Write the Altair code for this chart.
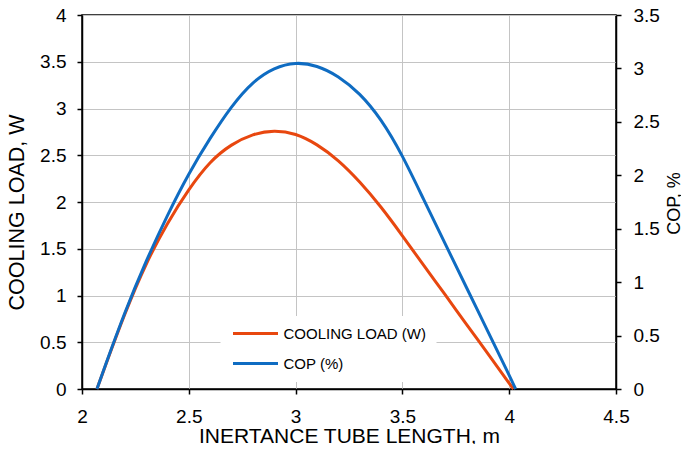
import altair as alt
import pandas as pd

# ---- data ----
series_names = ["COOLING LOAD (W)", "COP (%)"]
series_colors = ["#E8470F", "#0F6CC2"]

load_x = [2.07, 2.1, 2.2, 2.3, 2.4, 2.5, 2.6, 2.7, 2.8, 2.9, 3.0, 3.1, 3.2, 3.3, 3.4, 3.5, 3.6, 3.7, 3.8, 3.9, 4.0, 4.02]
load_y = [0.0, 0.19, 0.81, 1.35, 1.78, 2.14, 2.44, 2.62, 2.73, 2.77, 2.735, 2.62, 2.45, 2.22, 1.95, 1.64, 1.32, 1.01, 0.69, 0.38, 0.06, 0.0]

cop_x = [2.07, 2.1, 2.2, 2.3, 2.4, 2.5, 2.6, 2.7, 2.8, 2.9, 3.0, 3.1, 3.2, 3.3, 3.4, 3.5, 3.6, 3.7, 3.8, 3.9, 4.0, 4.03]
cop_y = [0.0, 0.17, 0.72, 1.20, 1.63, 2.02, 2.35, 2.65, 2.88, 3.01, 3.06, 3.03, 2.93, 2.77, 2.53, 2.19, 1.77, 1.36, 0.95, 0.54, 0.13, 0.0]

x_ticks = [2, 2.5, 3, 3.5, 4, 4.5]
left_ticks = [0, 0.5, 1, 1.5, 2, 2.5, 3, 3.5, 4]
right_ticks = [0, 0.5, 1, 1.5, 2, 2.5, 3, 3.5]

df = pd.concat([
    pd.DataFrame({"x": load_x, "value": load_y, "series": series_names[0]}),
    pd.DataFrame({"x": cop_x, "value": cop_y, "series": series_names[1]}),
], ignore_index=True)

FONT = "Liberation Sans"

color = alt.Color(
    "series:N",
    scale=alt.Scale(domain=series_names, range=series_colors),
    legend=alt.Legend(
        title=None, orient="none", legendX=138.5, legendY=301,
        fillColor="white", padding=10, symbolType="M-1,0H8",
        symbolSize=100, symbolStrokeWidth=3, labelFontSize=15,
        labelFont=FONT, labelColor="black", labelOffset=38,
        rowPadding=14, labelLimit=300,
    ),
)

x_enc = alt.X(
    "x:Q",
    scale=alt.Scale(domain=[2, 4.5], nice=False, zero=False),
    axis=alt.Axis(
        values=x_ticks, format="~g", title="INERTANCE TUBE LENGTH, m",
        grid=True, gridColor="#c4c4c4", gridWidth=1, labelFlush=False,
        domainColor="black", domainWidth=1.5, tickColor="black", tickWidth=1.5, tickSize=5,
        labelFont=FONT, labelFontSize=19, labelColor="black", labelPadding=13,
        titleFont=FONT, titleFontSize=21, titleFontWeight="normal", titleColor="black",
        titleY=53, titleBaseline="alphabetic",
    ),
)

base = alt.Chart(df)

load = base.transform_filter(alt.datum.series == series_names[0]).mark_line(
    strokeWidth=3, interpolate="basis"
).encode(
    x=x_enc,
    y=alt.Y(
        "value:Q",
        scale=alt.Scale(domain=[0, 4], nice=False),
        axis=alt.Axis(
            orient="left", values=left_ticks, format="~g", title="COOLING LOAD, W",
            grid=True, gridColor="#c4c4c4", gridWidth=1, labelFlush=False,
            domainColor="black", domainWidth=1.5, tickColor="black", tickWidth=1.5, tickSize=5,
            labelFont=FONT, labelFontSize=19, labelColor="black", labelPadding=11,
            titleFont=FONT, titleFontSize=21.5, titleFontWeight="normal", titleColor="black",
            titleAngle=270, titleX=-64.5, titleY=197, titleAlign="center", titleBaseline="middle",
        ),
    ),
    color=color,
)

cop = base.transform_filter(alt.datum.series == series_names[1]).mark_line(
    strokeWidth=3, interpolate="basis"
).encode(
    x=x_enc,
    y=alt.Y(
        "value:Q",
        scale=alt.Scale(domain=[0, 3.5], nice=False),
        axis=alt.Axis(
            orient="right", values=right_ticks, format="~g", title="COP, %",
            grid=False, labelFlush=False,
            domainColor="black", domainWidth=1.5, tickColor="black", tickWidth=1.5, tickSize=5,
            labelFont=FONT, labelFontSize=19, labelColor="black", labelPadding=12,
            titleFont=FONT, titleFontSize=18, titleFontWeight="normal", titleColor="black",
            titleAngle=270, titleX=58, titleY=188, titleAlign="center", titleBaseline="middle",
        ),
    ),
    color=color,
)

chart = alt.layer(load, cop).resolve_scale(y="independent").properties(
    width=534, height=374,
    autosize=alt.AutoSizeParams(type="none"),
    padding={"left": 74, "top": 7, "right": 65, "bottom": 55},
    background="white",
).configure_view(stroke="black", strokeWidth=1.5)

chart.save("out.html", embed_options={"renderer": "svg", "actions": False})
